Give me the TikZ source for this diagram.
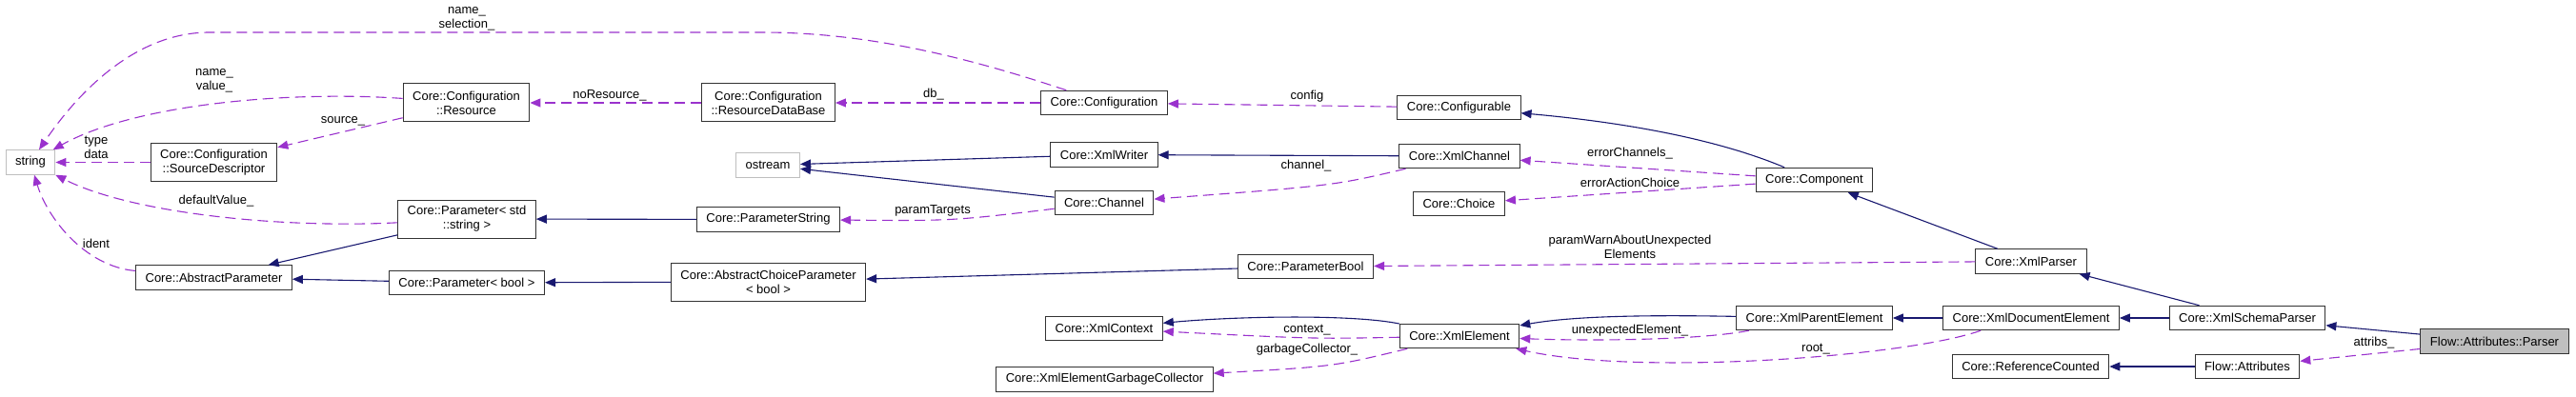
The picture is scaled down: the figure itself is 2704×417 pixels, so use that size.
\documentclass[tikz,border=0pt]{standalone}
\usepackage{fontspec}
\setmainfont{Liberation Sans}
\definecolor{edgeblue}{RGB}{25,25,112}
\definecolor{edgepurple}{RGB}{154,50,205}
\usetikzlibrary{arrows.meta}

\begin{document}
\begin{tikzpicture}[x=1pt, y=-1pt,
      cls/.style={draw=black!80, fill=white, line width=1pt, font=\fontsize{13}{15}\selectfont,
                  inner xsep=10pt, inner ysep=2pt, minimum height=25.5pt, align=center},
      twoline/.style={cls, minimum height=40pt},
      extcls/.style={cls, draw=black!25},
      thiscls/.style={cls, fill=black!25},
      inh/.style={-{Triangle[length=11pt,width=9pt]}, draw=edgeblue, line width=1.1pt},
      use/.style={-{Triangle[length=11pt,width=9pt]}, draw=edgepurple, line width=1.1pt,
                  dash pattern=on 11pt off 6pt},
      lab/.style={font=\fontsize{13}{15}\selectfont, align=center, inner sep=0pt}
    ]
      \useasboundingbox (0,0) rectangle (2704,417);

      % column 1-3
      \node[extcls] (str) at (32,170.5) {string};
      \node[twoline] (srcdesc) at (224.5,170.5) {Core::Configuration\\::SourceDescriptor};
      \node[cls] (absparam) at (224.5,291.5) {Core::AbstractParameter};
      \node[twoline] (res) at (489.5,108) {Core::Configuration\\::Resource};
      \node[twoline] (parstr) at (490,230) {Core::Parameter< std\\::string >};
      \node[cls] (parbool) at (490,297) {Core::Parameter< bool >};

      % column 4-5
      \node[twoline] (resdb) at (806.5,108) {Core::Configuration\\::ResourceDataBase};
      \node[extcls] (ostr) at (806,173.5) {ostream};
      \node[cls] (paramstr) at (806.5,230.5) {Core::ParameterString};
      \node[twoline] (abschoice) at (806.5,296) {Core::AbstractChoiceParameter\\< bool >};
      \node[cls] (config) at (1159,108) {Core::Configuration};
      \node[cls] (xmlwriter) at (1159,162.5) {Core::XmlWriter};
      \node[cls] (channel) at (1159,213) {Core::Channel};
      \node[cls] (xmlcontext) at (1159,345) {Core::XmlContext};
      \node[cls] (garbage) at (1159.5,398.5) {Core::XmlElementGarbageCollector};
      \node[cls] (parambool) at (1370.5,280) {Core::ParameterBool};

      % column 6-7
      \node[cls] (configurable) at (1531.5,113) {Core::Configurable};
      \node[cls] (xmlchannel) at (1532,164) {Core::XmlChannel};
      \node[cls] (choice) at (1531.5,214) {Core::Choice};
      \node[cls] (xmlelem) at (1532,353) {Core::XmlElement};
      \node[cls] (component) at (1904.5,189) {Core::Component};
      \node[cls] (xmlparent) at (1904.5,334) {Core::XmlParentElement};

      % column 8-10
      \node[cls] (xmlparser) at (2132,274.5) {Core::XmlParser};
      \node[cls] (xmldoc) at (2132,334) {Core::XmlDocumentElement};
      \node[cls] (refcount) at (2131.5,385) {Core::ReferenceCounted};
      \node[cls] (schema) at (2359,334) {Core::XmlSchemaParser};
      \node[cls] (attrs) at (2359,385) {Flow::Attributes};
      \node[thiscls] (attrparser) at (2618.5,358.5) {Flow::Attributes::Parser};

      % inheritance
      \draw[inh] (parstr) -- (absparam);
      \draw[inh] (parbool) -- (absparam);
      \draw[inh] (paramstr) -- (parstr);
      \draw[inh] (abschoice) -- (parbool);
      \draw[inh] (xmlwriter) -- (ostr);
      \draw[inh] (channel) -- (ostr);
      \draw[inh] (xmlchannel) -- (xmlwriter);
      \draw[inh] (parambool) -- (abschoice);
      \draw[inh] (component) .. controls (1800,145) and (1700,128) .. (configurable);
      \draw[inh] (xmlparser) -- (component);
      \draw[inh] (schema) -- (xmlparser);
      \draw[inh] (schema) -- (xmldoc);
      \draw[inh] (xmldoc) -- (xmlparent);
      \draw[inh] (xmlparent) .. controls (1700,330) and (1640,334) .. (xmlelem);
      \draw[inh] (xmlelem) .. controls (1420,330) and (1300,332) .. (xmlcontext);
      \draw[inh] (attrparser) -- (schema);
      \draw[inh] (attrs) -- (refcount);

      % usage
      \draw[use] (config) .. controls (1000,55) and (900,34) .. (800,34) -- (220,34)
        .. controls (140,34) and (80,100) .. (str)
        node[lab] at (490,20) {name\_\\selection\_};
      \draw[use] (res) .. controls (300,95) and (140,110) .. (str)
        node[lab] at (225,85) {name\_\\value\_};
      \draw[use] (srcdesc) -- (str) node[lab] at (101,155) {type\\data};
      \draw[use] (parstr) .. controls (300,240) and (140,225) .. (str)
        node[lab] at (227,211) {defaultValue\_};
      \draw[use] (absparam) .. controls (90,280) and (50,230) .. (str)
        node[lab] at (101,256) {ident};
      \draw[use] (res) -- (srcdesc) node[lab] at (360,127) {source\_};
      \draw[use] (resdb) -- (res) node[lab] at (640,100) {noResource\_};
      \draw[use] (config) -- (resdb) node[lab] at (980,99) {db\_};
      \draw[use] (configurable) -- (config) node[lab] at (1372,101) {config};
      \draw[use] (xmlchannel) .. controls (1400,195) .. (channel)
        node[lab] at (1371,174) {channel\_};
      \draw[use] (channel) .. controls (1000,232) .. (paramstr)
        node[lab] at (979,221) {paramTargets};
      \draw[use] (component) -- (xmlchannel) node[lab] at (1711,161) {errorChannels\_};
      \draw[use] (component) -- (choice) node[lab] at (1711,192) {errorActionChoice};
      \draw[use] (xmlparser) -- (parambool)
        node[lab] at (1711,259) {paramWarnAboutUnexpected\\Elements};
      \draw[use] (xmlelem) .. controls (1380,356) .. (xmlcontext)
        node[lab] at (1372,347) {context\_};
      \draw[use] (xmlelem) .. controls (1400,385) .. (garbage)
        node[lab] at (1372,367) {garbageCollector\_};
      \draw[use] (xmlparent) .. controls (1780,358) and (1660,358) .. (xmlelem)
        node[lab] at (1711,347) {unexpectedElement\_};
      \draw[use] ([xshift=40pt]xmldoc.south west) .. controls (2000,375) and (1720,395) .. (xmlelem)
        node[lab] at (1906,367) {root\_};
      \draw[use] (attrparser) -- (attrs) node[lab] at (2492,360) {attribs\_};
    \end{tikzpicture}
\end{document}
